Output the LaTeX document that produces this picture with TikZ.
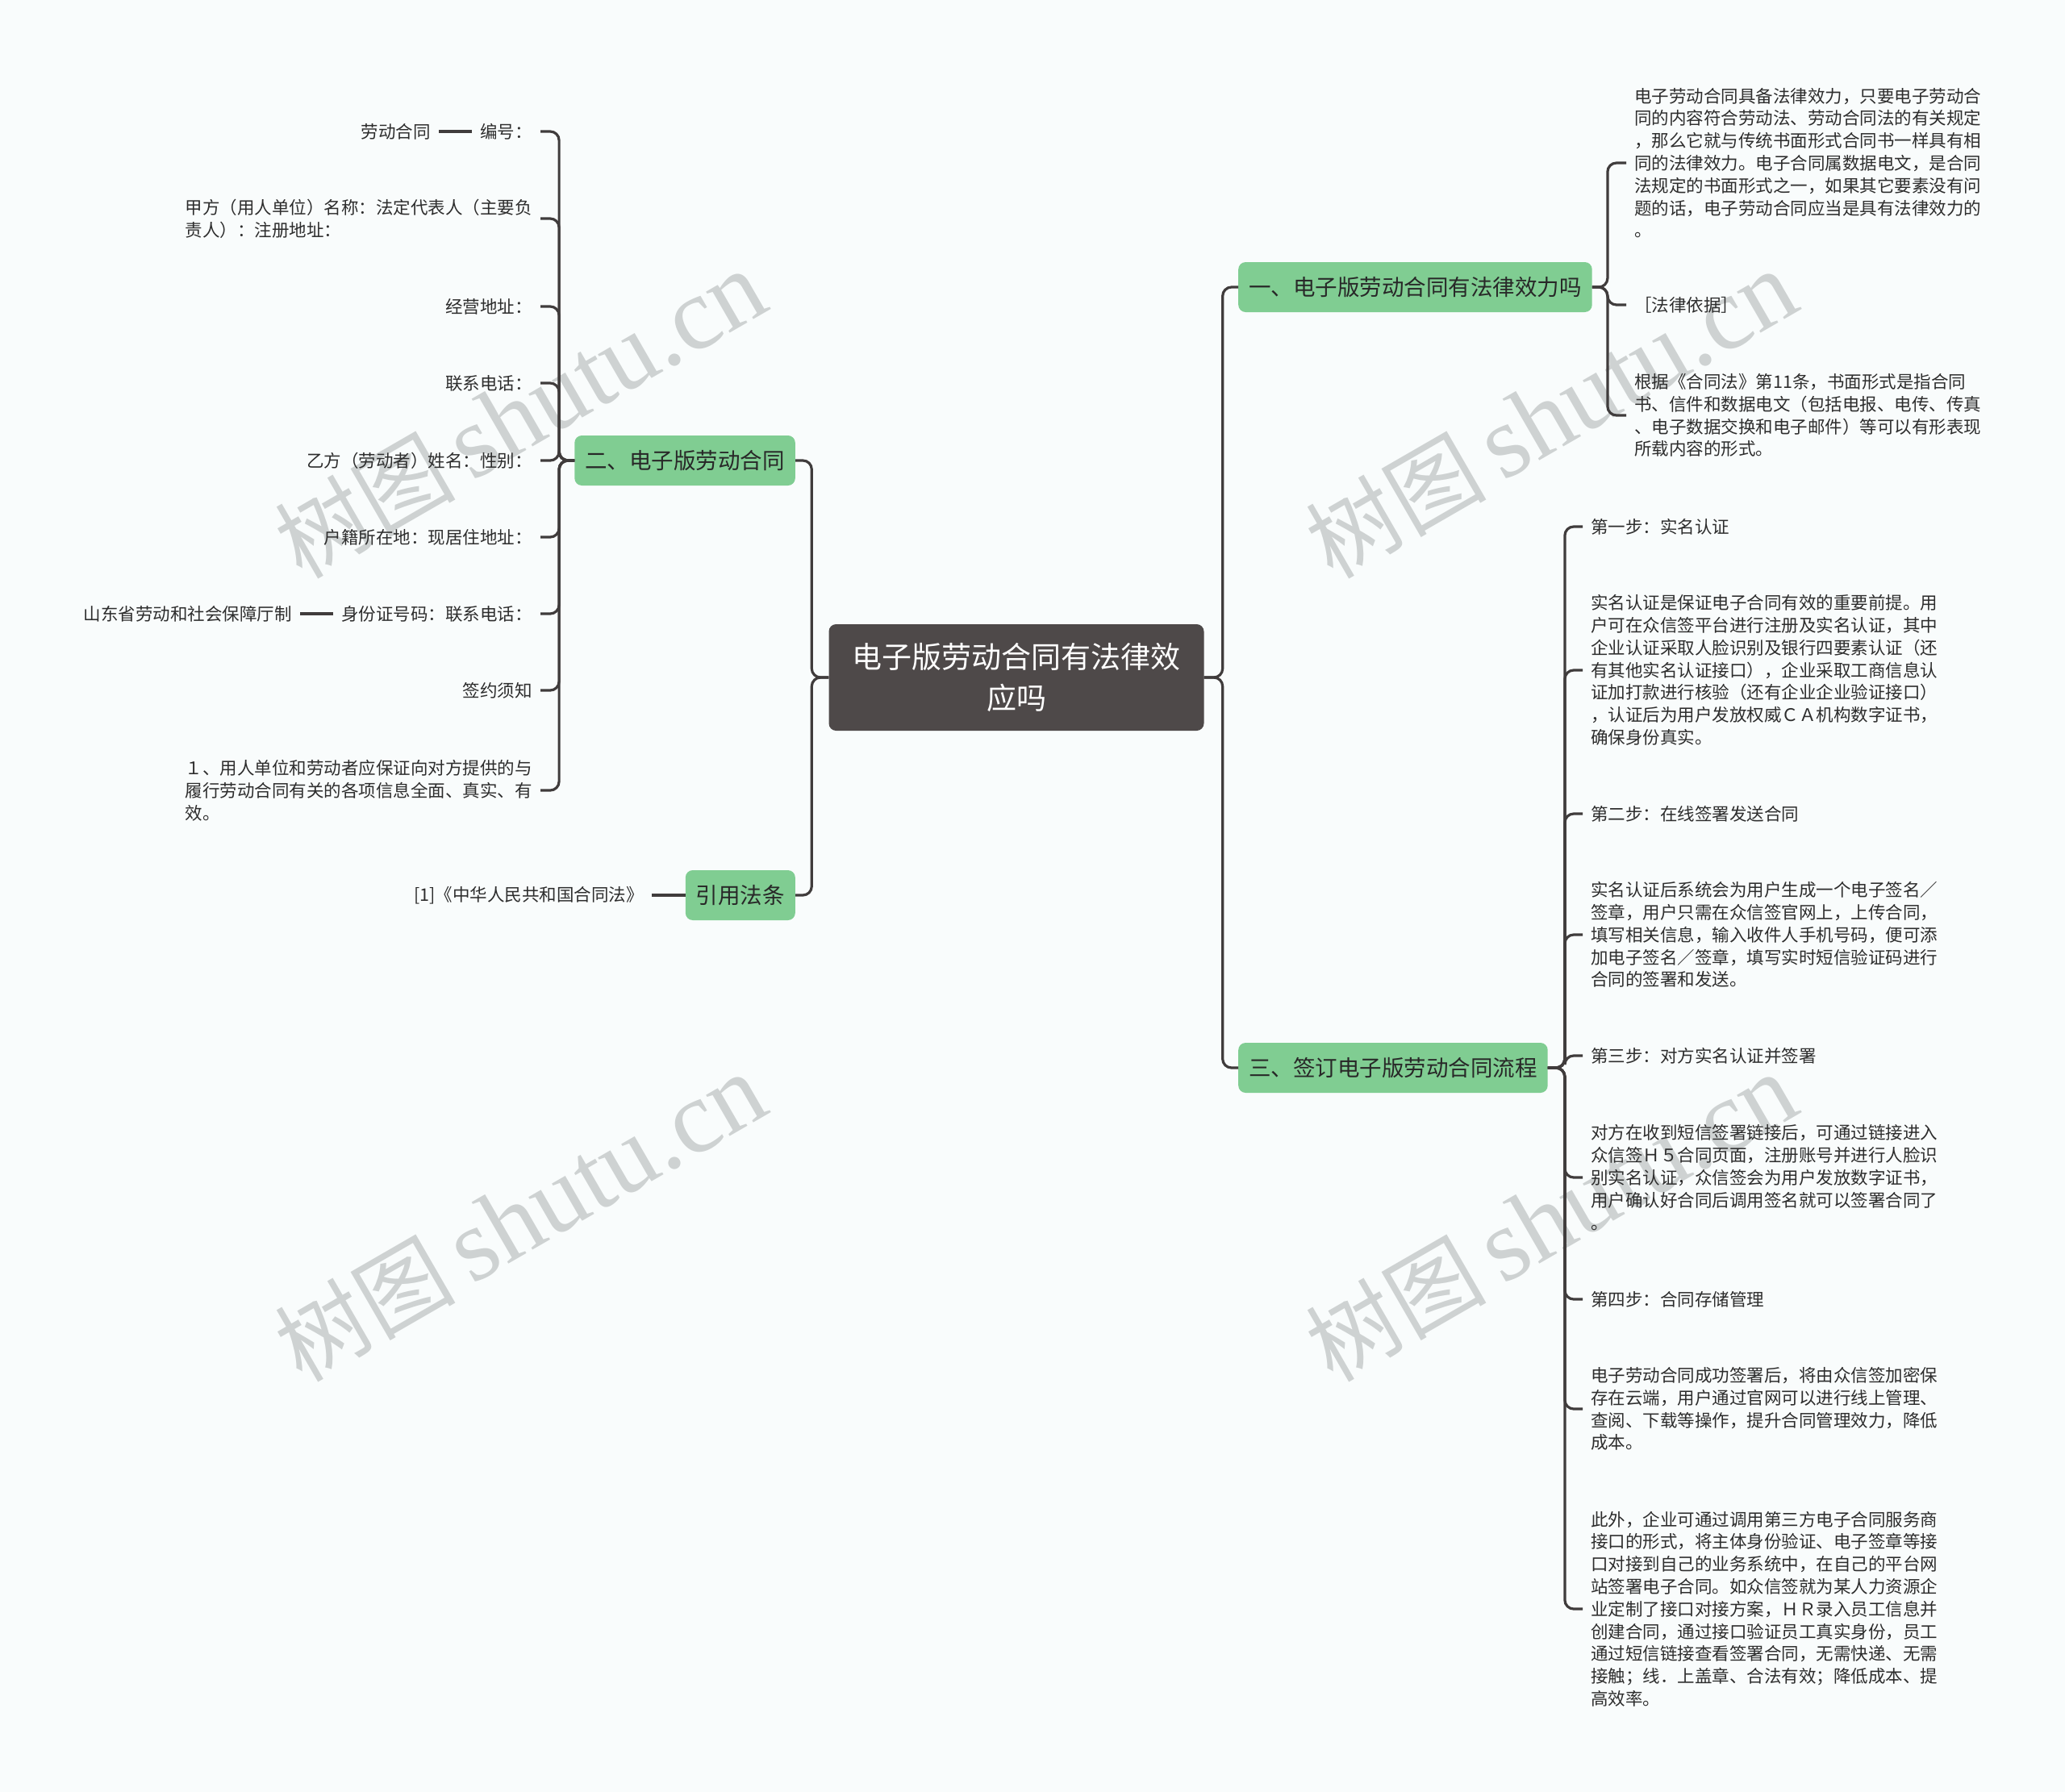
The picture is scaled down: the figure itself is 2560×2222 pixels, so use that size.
\documentclass[tikz,border=0pt]{standalone}
\usepackage{fontspec}
\setmainfont{Noto Sans CJK SC}
\newfontfamily\wmlat{Liberation Serif}
\definecolor{bgc}{RGB}{249,252,252}
\definecolor{linec}{RGB}{64,60,60}
\definecolor{greenc}{RGB}{128,205,146}
\definecolor{rootc}{RGB}{78,73,73}
\definecolor{titc}{RGB}{40,40,40}
\definecolor{leafc}{RGB}{45,45,45}
\definecolor{wmc}{RGB}{206,210,210}
\begin{document}
\begin{tikzpicture}[x=1pt,y=-1pt,
  conn/.style={draw=linec, line width=3.2pt, rounded corners=11pt},
  greenbox/.style={fill=greenc, rounded corners=9pt, text=titc, font=\fontsize{27.5}{33}\selectfont, inner xsep=13pt, inner ysep=0pt, minimum height=62pt},
  rootbox/.style={fill=rootc, rounded corners=9pt, text=white, font=\fontsize{37}{50.6}\selectfont, align=center, inner xsep=29pt, inner ysep=6pt, minimum height=132pt},
  leaf/.style={text=leafc, font=\fontsize{21.5}{27.8}\selectfont, inner xsep=10pt, inner ysep=2pt, align=left},
  wmark/.style={rotate=30, text=wmc, font=\fontsize{112}{120}\selectfont, inner sep=0pt}
]
\fill[bgc] (0,0) rectangle (2560,2222);
\useasboundingbox (0,0) rectangle (2560,2222);

% watermarks
\node[wmark] (w1) at (645,514) {树图\,{\wmlat\fontsize{128}{130}\selectfont shutu.cn}};
\node[wmark] (w2) at (645,1510) {树图\,{\wmlat\fontsize{128}{130}\selectfont shutu.cn}};
\node[wmark] (w3) at (1923,514) {树图\,{\wmlat\fontsize{128}{130}\selectfont shutu.cn}};
\node[wmark] (w4) at (1923,1510) {树图\,{\wmlat\fontsize{128}{130}\selectfont shutu.cn}};

% main nodes
\node[rootbox] (root) at (1260,840) {电子版劳动合同有法律效\\应吗};
\node[greenbox, anchor=west] (n1) at (1535,356) {一、电子版劳动合同有法律效力吗};
\node[greenbox, anchor=west] (n3) at (1535,1324) {三、签订电子版劳动合同流程};
\node[greenbox, anchor=east] (n2) at (986,571) {二、电子版劳动合同};
\node[greenbox, anchor=east] (n4) at (986,1110) {引用法条};

% left leaves of n2
\node[leaf, anchor=east] (l1) at (670,163) {编号：};
\node[leaf, anchor=east] (l1a) at (544,163) {劳动合同};
\node[leaf, anchor=east] (l2) at (670,271) {甲方（用人单位）名称：法定代表人（主要负\\责人）：注册地址：};
\node[leaf, anchor=east] (l3) at (670,380) {经营地址：};
\node[leaf, anchor=east] (l4) at (670,475) {联系电话：};
\node[leaf, anchor=east] (l5) at (670,571) {乙方（劳动者）姓名：性别：};
\node[leaf, anchor=east] (l6) at (670,666) {户籍所在地：现居住地址：};
\node[leaf, anchor=east] (l7) at (670,761) {身份证号码：联系电话：};
\node[leaf, anchor=east] (l7a) at (372,761) {山东省劳动和社会保障厅制};
\node[leaf, anchor=east] (l8) at (670,856) {签约须知};
\node[leaf, anchor=east] (l9) at (670,980) {１、用人单位和劳动者应保证向对方提供的与\\履行劳动合同有关的各项信息全面、真实、有\\效。};

% child of n4
\node[leaf, anchor=east] (r1) at (808,1110) {[1]《中华人民共和国合同法》};

% right leaves of n1
\node[leaf, anchor=west] (a1) at (2016,202) {电子劳动合同具备法律效力，只要电子劳动合\\同的内容符合劳动法、劳动合同法的有关规定\\，那么它就与传统书面形式合同书一样具有相\\同的法律效力。电子合同属数据电文，是合同\\法规定的书面形式之一，如果其它要素没有问\\题的话，电子劳动合同应当是具有法律效力的\\。};
\node[leaf, anchor=west] (a2) at (2016,378) {［法律依据］};
\node[leaf, anchor=west] (a3) at (2016,515) {根据《合同法》第11条，书面形式是指合同\\书、信件和数据电文（包括电报、电传、传真\\、电子数据交换和电子邮件）等可以有形表现\\所载内容的形式。};

% right leaves of n3
\node[leaf, anchor=west] (s1) at (1962,653) {第一步：实名认证};
\node[leaf, anchor=west] (s2) at (1962,831) {实名认证是保证电子合同有效的重要前提。用\\户可在众信签平台进行注册及实名认证，其中\\企业认证采取人脸识别及银行四要素认证（还\\有其他实名认证接口），企业采取工商信息认\\证加打款进行核验（还有企业企业验证接口）\\，认证后为用户发放权威ＣＡ机构数字证书，\\确保身份真实。};
\node[leaf, anchor=west] (s3) at (1962,1009) {第二步：在线签署发送合同};
\node[leaf, anchor=west] (s4) at (1962,1159) {实名认证后系统会为用户生成一个电子签名／\\签章，用户只需在众信签官网上，上传合同，\\填写相关信息，输入收件人手机号码，便可添\\加电子签名／签章，填写实时短信验证码进行\\合同的签署和发送。};
\node[leaf, anchor=west] (s5) at (1962,1309) {第三步：对方实名认证并签署};
\node[leaf, anchor=west] (s6) at (1962,1460) {对方在收到短信签署链接后，可通过链接进入\\众信签Ｈ５合同页面，注册账号并进行人脸识\\别实名认证，众信签会为用户发放数字证书，\\用户确认好合同后调用签名就可以签署合同了\\。};
\node[leaf, anchor=west] (s7) at (1962,1611) {第四步：合同存储管理};
\node[leaf, anchor=west] (s8) at (1962,1747) {电子劳动合同成功签署后，将由众信签加密保\\存在云端，用户通过官网可以进行线上管理、\\查阅、下载等操作，提升合同管理效力，降低\\成本。};
\node[leaf, anchor=west] (s9) at (1962,1995) {此外，企业可通过调用第三方电子合同服务商\\接口的形式，将主体身份验证、电子签章等接\\口对接到自己的业务系统中，在自己的平台网\\站签署电子合同。如众信签就为某人力资源企\\业定制了接口对接方案，ＨＲ录入员工信息并\\创建合同，通过接口验证员工真实身份，员工\\通过短信链接查看签署合同，无需快递、无需\\接触；线．上盖章、合法有效；降低成本、提\\高效率。};

% connectors
\draw[conn] (root.east) -- ++(23,0) |- (n1.west);
\draw[conn] (root.east) -- ++(23,0) |- (n3.west);
\draw[conn] (root.west) -- ++(-21,0) |- (n2.east);
\draw[conn] (root.west) -- ++(-21,0) |- (n4.east);
\foreach \c in {l1,l2,l3,l4,l5,l6,l7,l8,l9}
  \draw[conn] (n2.west) -- ++(-19,0) |- (\c.east);
\draw[conn] (l1.west) -- (l1a.east);
\draw[conn] (l7.west) -- (l7a.east);
\draw[conn] (n4.west) -- (r1.east);
\foreach \c in {a1,a2,a3}
  \draw[conn] (n1.east) -- ++(19,0) |- (\c.west);
\foreach \c in {s1,s2,s3,s4,s5,s6,s7,s8,s9}
  \draw[conn] (n3.east) -- ++(21,0) |- (\c.west);
\end{tikzpicture}
\end{document}
